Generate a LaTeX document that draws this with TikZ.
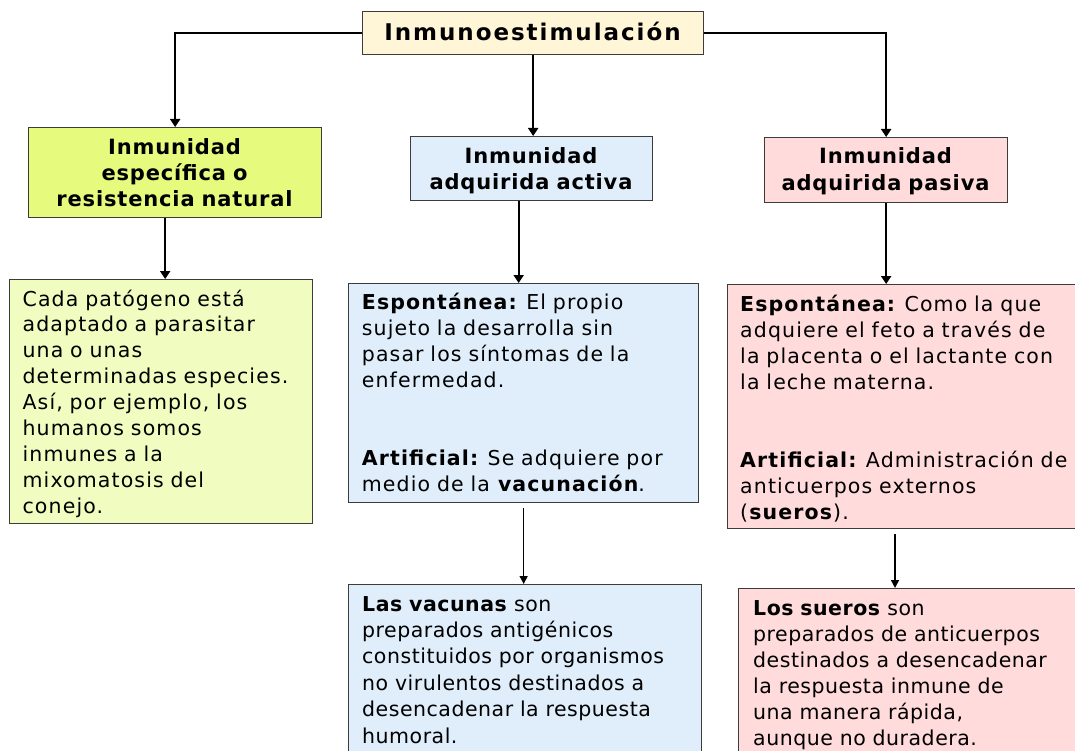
\documentclass[tikz,border=0pt]{standalone}
\usepackage{fontspec}
\setmainfont{DejaVu Sans}
\newfontfamily\bodyA[LetterSpace=5.5]{DejaVu Sans}
\newfontfamily\bodyB[LetterSpace=2.5]{DejaVu Sans}
\newfontfamily\headA[LetterSpace=8.5]{DejaVu Sans}
\newfontfamily\headB[LetterSpace=4]{DejaVu Sans}
\usetikzlibrary{arrows.meta}
\definecolor{cream}{RGB}{255,245,215}
\definecolor{greenA}{RGB}{230,250,125}
\definecolor{greenB}{RGB}{240,252,192}
\definecolor{blueA}{RGB}{224,238,252}
\definecolor{pinkA}{RGB}{255,219,219}
\definecolor{edge}{RGB}{60,60,60}
\tikzset{
  box/.style={draw=edge, line width=1.3pt, anchor=north west, inner sep=0pt},
  bodytxt/.style={anchor=base west, inner sep=0pt, text width=400pt, align=left},
  headtxt/.style={anchor=base, inner sep=0pt, text width=320pt, align=center},
  conn/.style={line width=2pt, -{Triangle[length=8pt,width=10pt]}},
  conn2/.style={line width=1.5pt, -{Triangle[length=8pt,width=8pt]}},
}
\begin{document}
\begin{tikzpicture}[x=1pt,y=-1pt]
\useasboundingbox (0,0) rectangle (1075,751);
% boxes
\node[box, fill=cream, minimum width=341pt, minimum height=43pt] (top) at (362,11) {};
\node[box, fill=greenA, minimum width=293pt, minimum height=90pt] (g1) at (28,127) {};
\node[box, fill=blueA, minimum width=242pt, minimum height=64pt] (b1) at (410,136) {};
\node[box, fill=pinkA, minimum width=243pt, minimum height=65pt] (p1) at (764,137) {};
\node[box, fill=greenB, minimum width=303pt, minimum height=244pt] (g2) at (9,279) {};
\node[box, fill=blueA, minimum width=350pt, minimum height=219pt] (b2) at (348,283) {};
\node[box, fill=pinkA, minimum width=360pt, minimum height=244pt] (p2) at (727,284) {};
\node[box, fill=blueA, minimum width=353pt, minimum height=200pt] (b3) at (348,584) {};
\node[box, fill=pinkA, minimum width=360pt, minimum height=200pt] (p3) at (738,588) {};
% headers
\node[headtxt, font=\headA\bfseries\fontsize{23}{26}\selectfont] (topt) at (532.5,41) {Inmunoestimulación};
\node[headtxt, font=\headB\bfseries\fontsize{21}{25.8}\selectfont] (g1t) at (174.5,155) {Inmunidad\\ específica o\\ resistencia natural};
\node[headtxt, font=\headB\bfseries\fontsize{21}{26.7}\selectfont] (b1t) at (531,163.3) {Inmunidad\\ adquirida activa};
\node[headtxt, font=\headB\bfseries\fontsize{21}{26.7}\selectfont] (p1t) at (885.5,164) {Inmunidad\\ adquirida pasiva};
% body texts
\node[bodytxt, font=\bodyA\fontsize{20.5}{25.9}\selectfont] (g2t) at (22.4,306) {Cada patógeno está\\ adaptado a parasitar\\ una o unas\\ determinadas especies.\\ Así, por ejemplo, los\\ humanos somos\\ inmunes a la\\ mixomatosis del\\ conejo.};
\node[bodytxt, font=\bodyA\fontsize{20.5}{26}\selectfont] (b2t) at (361.7,309) {\textbf{Espontánea:}\hspace{-2pt} El propio\\ sujeto la desarrolla sin\\ pasar los síntomas de la\\ enfermedad.\\[52pt] \textbf{Artificial:}\hspace{-2pt} Se adquiere por\\ medio de la \textbf{vacunación}.};
\node[bodytxt, font=\bodyA\fontsize{20.5}{26}\selectfont] (p2t) at (740,311) {\textbf{Espontánea:}\hspace{-2pt} Como la que\\ adquiere el feto a través de\\ la placenta o el lactante con\\ la leche materna.\\[52pt] \textbf{Artificial:}\hspace{-2pt} Administración de\\ anticuerpos externos\\ (\textbf{sueros}).};
\node[bodytxt, font=\bodyB\fontsize{20.5}{26.4}\selectfont] (b3t) at (362,611) {\textbf{Las vacunas} son\\ preparados antigénicos\\ constituidos por organismos\\ no virulentos destinados a\\ desencadenar la respuesta\\ humoral.};
\node[bodytxt, font=\bodyB\fontsize{20.5}{26}\selectfont] (p3t) at (753,615) {\textbf{Los sueros} son\\ preparados de anticuerpos\\ destinados a desencadenar\\ la respuesta inmune de\\ una manera rápida,\\ aunque no duradera.};
% connectors
\draw[conn] (top.west) -| (g1.north);
\draw[conn] (top.east) -| (p1.north);
\draw[conn] (top.south) -- (top.south |- b1.north);
\draw[conn] ([xshift=-10pt]g1.south) -- ([xshift=-10pt]g1.south |- g2.north);
\draw[conn] ([xshift=-13pt]b1.south) -- ([xshift=-13pt]b1.south |- b2.north);
\draw[conn] (p1.south) -- (p1.south |- p2.north);
\draw[conn2, shorten <=5pt] (b2.south) -- (b2.south |- b3.north);
\draw[conn2, shorten <=5pt] ([xshift=168pt]p2.south west) -- ([xshift=168pt]p2.south west |- p3.north);
\end{tikzpicture}
\end{document}
